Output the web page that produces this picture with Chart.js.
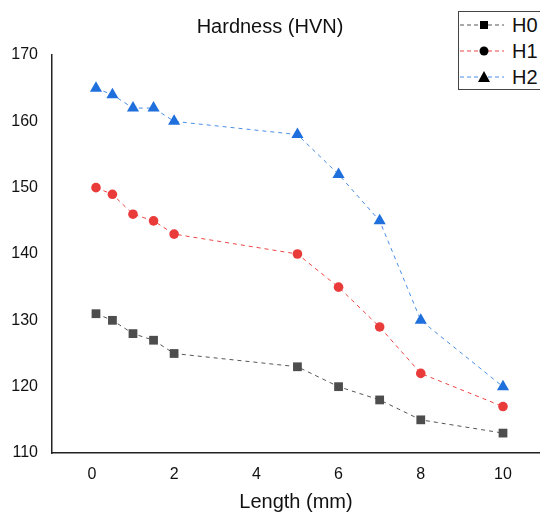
<!DOCTYPE html>
<html>
<head>
<meta charset="utf-8">
<script src="https://cdn.jsdelivr.net/npm/chart.js@4"></script>
<style>
  html, body { margin: 0; padding: 0; background: #fff; }
  #wrap { position: relative; width: 540px; height: 514px; }
  #legend {
    position: absolute; left: 458px; top: 11px; width: 90px; height: 77px;
    border: 1.5px solid #444; background: #fff;
    font-family: "Liberation Sans", Arial, sans-serif; font-size: 20px; color: #111;
  }
  #legend .row { position: absolute; left: 0; height: 26px; display: flex; align-items: center; }
  #legend svg { display: block; margin-right: 7px; }
</style>
</head>
<body>
<div id="wrap">
  <canvas id="hardness" width="540" height="514"></canvas>
  <div id="legend"></div>
</div>
<script>
// data
var lengths = [0.1, 0.5, 1, 1.5, 2, 5, 6, 7, 8, 10];
var h0 = [131, 130, 128, 127, 125, 123, 120, 118, 115, 113];
var h1 = [150, 149, 146, 145, 143, 140, 135, 129, 122, 117];
var h2 = [165, 164, 162, 162, 160, 158, 152, 145, 130, 120];
var seriesNames = ["H0", "H1", "H2"];
var xTicks = [0, 2, 4, 6, 8, 10];
var yTicks = [110, 120, 130, 140, 150, 160, 170];

var font = "'Liberation Sans', Arial, sans-serif";

function pts(vals) {
  return vals.map(function (v, i) { return { x: lengths[i], y: v }; });
}

var styles = [
  { line: "#555555", point: "#4d4d4d", shape: "rect", r: 6.2 },
  { line: "#ee4444", point: "#ea3b3b", shape: "circle", r: 4.8 },
  { line: "#4a8ee6", point: "#1f6fdc", shape: "triangle", r: 7 }
];
var allData = [h0, h1, h2];

var datasets = allData.map(function (vals, i) {
  var s = styles[i];
  return {
    label: seriesNames[i],
    data: pts(vals),
    borderColor: s.line,
    borderWidth: 1,
    borderDash: [4, 4],
    pointStyle: s.shape,
    pointRadius: s.r,
    pointBackgroundColor: s.point,
    pointBorderColor: s.point,
    pointBorderWidth: 0,
    tension: 0,
    clip: false
  };
});

new Chart("hardness", {
  type: "line",
  data: { datasets: datasets },
  options: {
    responsive: false,
    animation: false,
    layout: { autoPadding: false, padding: 0 },
    plugins: {
      legend: { display: false },
      tooltip: { enabled: false },
      title: {
        display: true,
        text: "Hardness (HVN)",
        color: "#111",
        font: { family: font, size: 20, weight: "normal" },
        padding: { top: 15, bottom: 16 }
      }
    },
    scales: {
      x: {
        type: "linear",
        min: -0.97,
        max: 10.9,
        afterBuildTicks: function (scale) {
          scale.ticks = xTicks.map(function (v) { return { value: v }; });
        },
        afterFit: function (scale) {
          scale.height = 61;
          scale.paddingRight = 0;
          scale.paddingLeft = 0;
        },
        grid: { display: false },
        border: { display: true, color: "#222", width: 1.5 },
        ticks: { color: "#111", padding: 4, font: { family: font, size: 16 } },
        title: {
          display: true,
          text: "Length (mm)",
          color: "#111",
          font: { family: font, size: 20 },
          padding: { top: 2, bottom: 0 }
        }
      },
      y: {
        min: 110,
        max: 170,
        afterBuildTicks: function (scale) {
          scale.ticks = yTicks.map(function (v) { return { value: v }; });
        },
        afterFit: function (scale) { scale.width = 52; },
        grid: { display: false },
        border: { display: true, color: "#222", width: 1.5 },
        ticks: { color: "#111", padding: 6, font: { family: font, size: 16 } }
      }
    }
  }
});

// html legend: dashed line + black marker, like the reference
function markerSvg(i) {
  var s = styles[i];
  var m;
  if (s.shape === "rect") m = '<rect x="21" y="5" width="8" height="8" fill="#000"/>';
  else if (s.shape === "circle") m = '<circle cx="25" cy="9" r="4.5" fill="#000"/>';
  else m = '<polygon points="25,3 31,14 19,14" fill="#000"/>';
  return '<svg width="46" height="18"><line x1="1" y1="9" x2="45" y2="9" stroke="' + s.line +
    '" stroke-width="1" stroke-dasharray="4,3"/>' + m + '</svg>';
}
var legend = document.getElementById("legend");
seriesNames.forEach(function (name, i) {
  var row = document.createElement("div");
  row.className = "row";
  row.style.top = (i * 26) + "px";
  row.innerHTML = markerSvg(i) + "<span>" + name + "</span>";
  legend.appendChild(row);
});
</script>
</body>
</html>
